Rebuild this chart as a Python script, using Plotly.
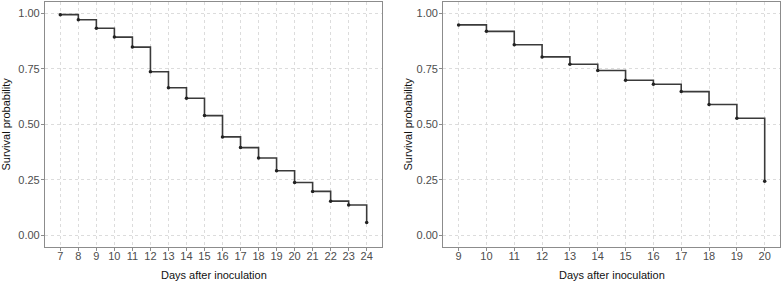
import plotly.graph_objects as go

# Panel A
days_a = [7, 8, 9, 10, 11, 12, 13, 14, 15, 16, 17, 18, 19, 20, 21, 22, 23, 24]
surv_a = [0.993, 0.970, 0.932, 0.892, 0.847, 0.736, 0.664, 0.617, 0.539, 0.443,
          0.395, 0.348, 0.291, 0.238, 0.198, 0.154, 0.137, 0.058]

# Panel B
days_b = [9, 10, 11, 12, 13, 14, 15, 16, 17, 18, 19, 20]
surv_b = [0.947, 0.918, 0.858, 0.803, 0.770, 0.742, 0.698, 0.680, 0.647, 0.589, 0.527, 0.243]

y_ticks = [0, 0.25, 0.5, 0.75, 1.0]
y_ticktext = ["0.00", "0.25", "0.50", "0.75", "1.00"]
x_title = "Days after inoculation"
y_title = "Survival probability"

W, H = 782, 282
fig = go.Figure()

line_col = "#3a3a3a"
fig.add_trace(go.Scatter(x=days_a, y=surv_a, mode="lines+markers", line_shape="hv",
                         line=dict(color=line_col, width=1.6),
                         marker=dict(color="#222", size=3.5), xaxis="x", yaxis="y",
                         showlegend=False))
fig.add_trace(go.Scatter(x=days_b, y=surv_b, mode="lines+markers", line_shape="hv",
                         line=dict(color=line_col, width=1.6),
                         marker=dict(color="#222", size=3.5), xaxis="x2", yaxis="y2",
                         showlegend=False))

def pad(lo, hi):
    d = (hi - lo) * 0.05
    return [lo - d, hi + d]

ydom = [1 - 246.5 / H, 1 - 2 / H]
common_ax = dict(showline=True, mirror=True, linecolor="#8c8c8c", linewidth=1.2,
                 showgrid=True, gridcolor="#dcdcdc", griddash="3px,3px", gridwidth=1,
                 ticks="outside", ticklen=3, tickcolor="#8c8c8c", zeroline=False,
                 tickfont=dict(family="Liberation Sans, Arial", size=11, color="#4d4d4d"))

fig.update_layout(
    width=W, height=H, margin=dict(l=0, r=0, t=0, b=0),
    plot_bgcolor="white", paper_bgcolor="white",
    xaxis=dict(domain=[45 / W, 382 / W], range=pad(min(days_a), max(days_a)),
               tickmode="array", tickvals=days_a, ticktext=[str(d) for d in days_a],
               anchor="y", ticklabelstandoff=-4, **common_ax),
    yaxis=dict(domain=ydom, range=[-0.05, 1.05], tickmode="array", tickvals=y_ticks,
               ticktext=y_ticktext, anchor="x", ticklabelstandoff=-1, **common_ax),
    xaxis2=dict(domain=[443.3 / W, 780 / W], range=pad(min(days_b), max(days_b)),
                tickmode="array", tickvals=days_b, ticktext=[str(d) for d in days_b],
                anchor="y2", ticklabelstandoff=-4, **common_ax),
    yaxis2=dict(domain=ydom, range=[-0.05, 1.05], tickmode="array", tickvals=y_ticks,
                ticktext=y_ticktext, anchor="x2", ticklabelstandoff=-1, **common_ax),
)

title_font = dict(family="Liberation Sans, Arial", size=11, color="#111")
for xc in [(45 + 382) / 2, (443.3 + 780) / 2]:
    fig.add_annotation(text=x_title, x=xc / W, y=1 - 275 / H, xref="paper", yref="paper",
                       showarrow=False, font=title_font, xanchor="center", yanchor="middle")
for xc in [6, 408]:
    fig.add_annotation(text=y_title, x=xc / W, y=1 - 124.5 / H, xref="paper", yref="paper",
                       showarrow=False, font=title_font, textangle=-90,
                       xanchor="center", yanchor="middle")

fig.write_html("out.html", config={"displayModeBar": False},
               post_script="document.body.style.margin='0';document.body.style.overflow='hidden';")
